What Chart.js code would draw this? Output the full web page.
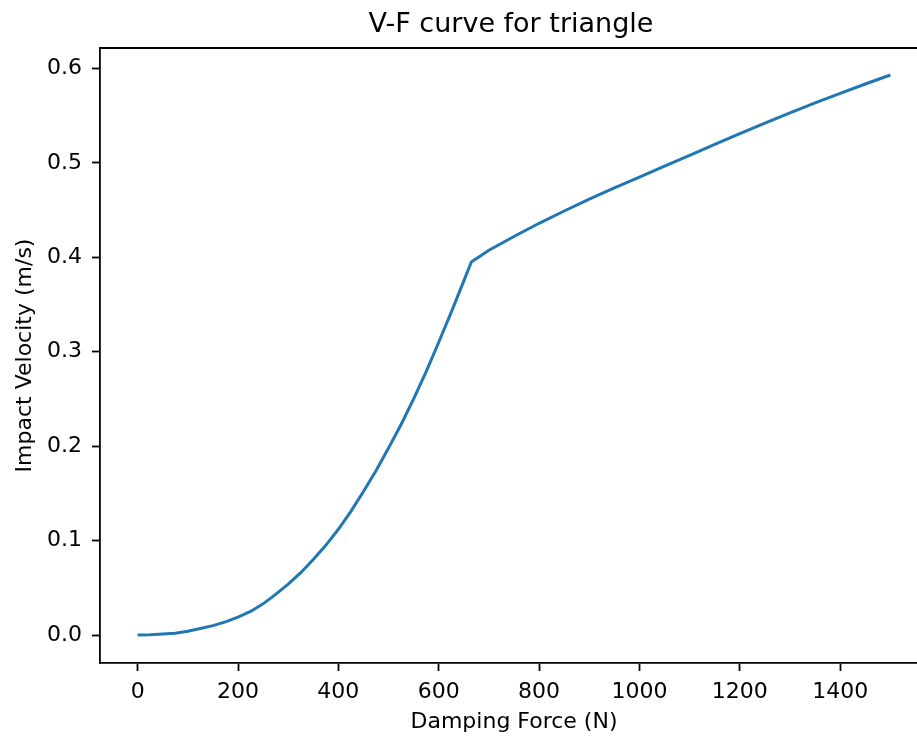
<!DOCTYPE html>
<html>
<head>
<meta charset="utf-8">
<title>V-F curve for triangle</title>
<script src="https://cdn.jsdelivr.net/npm/chart.js@4/dist/chart.umd.min.js"></script>
<style>
  html, body { margin: 0; padding: 0; background: #fff; overflow: hidden; }
  #wrap { width: 917px; height: 736px; overflow: hidden; }
</style>
</head>
<body>
<div id="wrap">
  <canvas id="vfChart" width="928" height="736"></canvas>
</div>
<script>
'use strict';

// Damping force (N) along the x axis
var dampingForce = [0, 25, 50, 75, 100, 125, 150, 175, 200, 225, 250, 275, 300, 325, 350, 375,
  400, 425, 450, 475, 500, 525, 550, 575, 600, 625, 650, 665,
  700, 750, 800, 850, 900, 950, 1000, 1050, 1100, 1150, 1200, 1250, 1300, 1350, 1400, 1450, 1500];

// Impact velocity (m/s)
var impactVelocity = [0, 0.0002, 0.001, 0.002, 0.004, 0.007, 0.010, 0.014, 0.019, 0.025, 0.033, 0.043, 0.054, 0.066, 0.080, 0.095,
  0.112, 0.131, 0.152, 0.174, 0.198, 0.223, 0.250, 0.279, 0.310, 0.342, 0.375, 0.395,
  0.4075, 0.422, 0.436, 0.449, 0.4615, 0.4735, 0.485, 0.4965, 0.508, 0.5195, 0.531, 0.542, 0.553, 0.5635, 0.5735, 0.5835, 0.593];

var chartTitle = 'V-F curve for triangle';
var xTitle = 'Damping Force (N)';
var yTitle = 'Impact Velocity (m/s)';

var points = dampingForce.map(function (f, i) {
  return { x: f, y: impactVelocity[i] };
});

var FONT = "'DejaVu Sans', sans-serif";

// titre + cadre du haut, comme matplotlib
var framePlugin = {
  id: 'frame',
  afterDraw: function (chart) {
    var ctx = chart.ctx;
    var area = chart.chartArea;
    ctx.save();
    ctx.strokeStyle = '#000';
    ctx.lineWidth = 1.8;
    ctx.beginPath();
    ctx.moveTo(area.left - 0.9, area.top);
    ctx.lineTo(area.right, area.top);
    ctx.stroke();
    ctx.fillStyle = '#000';
    ctx.font = '27px ' + FONT;
    ctx.textAlign = 'center';
    ctx.textBaseline = 'alphabetic';
    ctx.fillText(chartTitle, 511, 32);
    ctx.restore();
  }
};

var ctx = document.getElementById('vfChart').getContext('2d');

new Chart(ctx, {
  type: 'scatter',
  data: {
    datasets: [{
      data: points,
      showLine: true,
      borderColor: '#1f77b4',
      borderWidth: 3,
      pointRadius: 0,
      tension: 0
    }]
  },
  options: {
    animation: false,
    responsive: false,
    layout: { padding: { top: 48, right: 0, bottom: 0, left: 0 } },
    scales: {
      x: {
        type: 'linear',
        min: -75,
        max: 1575,
        afterFit: function (scale) { scale.height = 73; },
        ticks: {
          stepSize: 200,
          includeBounds: false,
          color: '#000',
          font: { family: FONT, size: 22 },
          padding: 8,
          maxRotation: 0,
          callback: function (v) { return String(v); }
        },
        grid: { drawOnChartArea: false, drawTicks: true, tickLength: 8, tickWidth: 1.8, color: '#000' },
        border: { display: true, color: '#000', width: 1.8 },
        title: {
          display: true,
          text: xTitle,
          color: '#000',
          font: { family: FONT, size: 22 },
          padding: { top: 0, bottom: 1 }
        }
      },
      y: {
        type: 'linear',
        min: -0.0296,
        max: 0.6216,
        afterFit: function (scale) { scale.width = 100; },
        ticks: {
          stepSize: 0.1,
          includeBounds: false,
          color: '#000',
          font: { family: FONT, size: 22 },
          padding: 10,
          callback: function (v) { return Number(v).toFixed(1); }
        },
        grid: { drawOnChartArea: false, drawTicks: true, tickLength: 8, tickWidth: 1.8, color: '#000' },
        border: { display: true, color: '#000', width: 1.8 },
        title: {
          display: true,
          text: yTitle,
          color: '#000',
          font: { family: FONT, size: 22 },
          padding: { top: 12, bottom: 0 }
        }
      }
    },
    plugins: {
      legend: { display: false },
      tooltip: { enabled: false }
    }
  },
  plugins: [framePlugin]
});
</script>
</body>
</html>
